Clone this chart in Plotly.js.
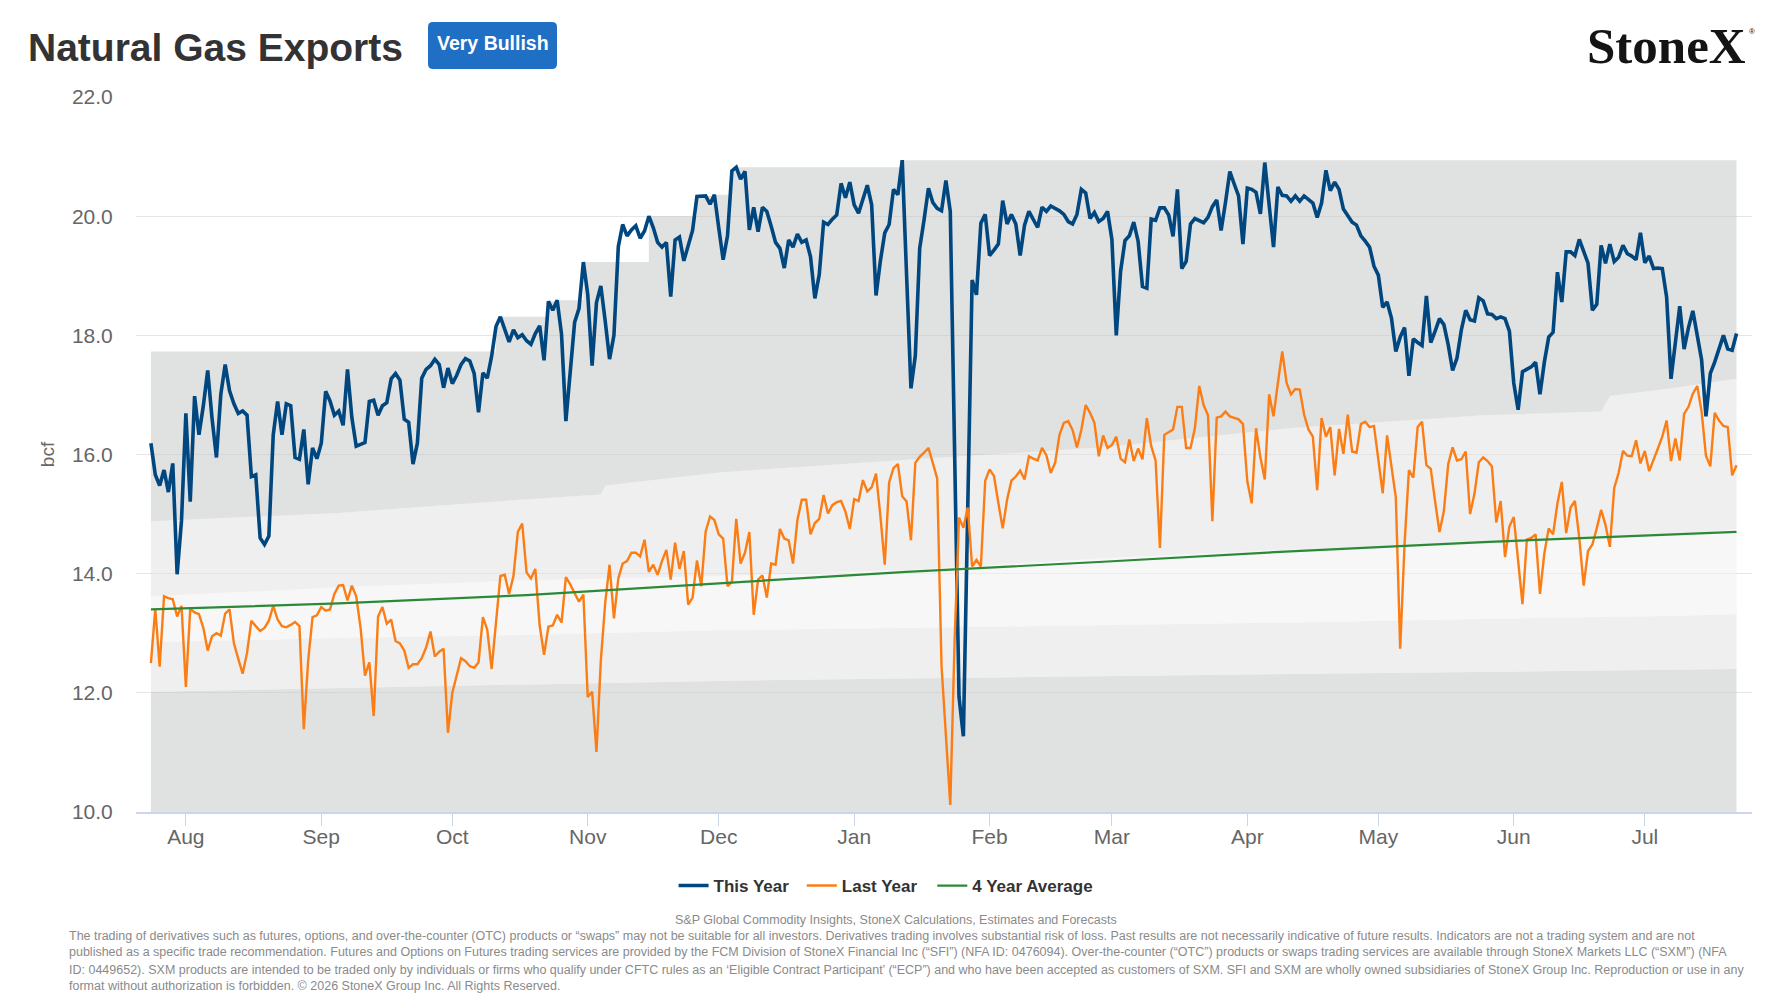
<!DOCTYPE html>
<html>
<head>
<meta charset="utf-8">
<script src="https://cdn.plot.ly/plotly-3.0.1.min.js"></script>
<style>
html,body{margin:0;padding:0;background:#ffffff;}
#chart{width:1780px;height:1001px;}
</style>
</head>
<body>
<div id="chart"></div>
<script>
// ---------------- DATA ----------------
const seriesStart = '2025-07-24';   // first daily point (series run daily to 2026-07-22)

const thisYear = [
16.19,15.66,15.48,15.74,15.37,15.85,13.99,14.89,16.69,15.21,
16.98,16.33,16.82,17.41,16.6,15.95,17.01,17.51,17.07,16.85,
16.69,16.73,16.66,15.63,15.66,14.6,14.49,14.63,16.33,16.89,
16.33,16.85,16.82,15.95,15.92,16.42,15.5,16.11,15.93,16.19,
17.06,16.9,16.66,16.73,16.49,17.43,16.62,16.14,16.17,16.2,
16.89,16.91,16.66,16.82,16.87,17.27,17.36,17.25,16.59,16.54,
15.84,16.19,17.28,17.43,17.49,17.6,17.51,17.12,17.45,17.19,
17.33,17.51,17.61,17.57,17.36,16.71,17.37,17.28,17.65,18.15,
18.31,18.1,17.89,18.09,17.96,18.01,17.91,17.85,18.03,18.16,
17.58,18.57,18.42,18.59,18.02,16.56,17.48,18.22,18.45,19.23,
18.69,17.49,18.55,18.83,18.24,17.6,18.0,19.49,19.86,19.67,
19.77,19.84,19.63,19.75,20.0,19.81,19.56,19.48,19.56,18.65,
19.6,19.65,19.25,19.51,19.76,20.33,20.33,20.34,20.2,20.36,
19.8,19.27,19.67,20.76,20.82,20.62,20.75,19.77,20.15,19.74,
20.15,20.08,19.83,19.56,19.46,19.13,19.6,19.48,19.7,19.56,
19.6,19.32,18.62,19.02,19.9,19.86,19.95,20.02,20.55,20.31,
20.57,20.19,20.05,20.31,20.52,20.19,18.67,19.25,19.72,19.86,
20.45,20.36,20.94,19.0,17.11,17.66,19.46,19.94,20.47,20.23,
20.13,20.09,20.6,20.08,15.8,11.93,11.27,15.2,18.93,18.68,
19.88,20.03,19.34,19.43,19.53,20.26,19.87,20.03,19.87,19.34,
19.85,20.08,19.93,19.81,20.15,20.08,20.17,20.13,20.09,20.03,
19.91,19.87,20.03,20.45,20.39,19.96,20.06,19.91,19.96,20.08,
19.61,18.0,19.08,19.59,19.67,19.9,19.58,18.82,18.79,19.95,
19.93,20.14,20.14,20.02,19.66,20.45,19.12,19.24,19.87,19.96,
19.92,19.89,19.98,20.16,20.27,19.76,20.23,20.75,20.54,20.34,
19.53,20.47,20.45,20.4,20.04,20.9,20.19,19.48,20.49,20.35,
20.34,20.25,20.34,20.25,20.34,20.27,20.22,19.98,20.22,20.77,
20.43,20.57,20.45,20.12,20.0,19.9,19.85,19.67,19.58,19.48,
19.16,19.01,18.47,18.56,18.29,17.73,17.97,18.13,17.32,17.94,
17.88,17.83,18.66,17.88,18.07,18.28,18.18,17.84,17.41,17.62,
18.09,18.42,18.26,18.24,18.63,18.58,18.36,18.35,18.28,18.31,
18.28,18.07,17.2,16.75,17.39,17.43,17.47,17.55,17.01,17.55,
17.97,18.05,19.06,18.56,19.4,19.4,19.34,19.61,19.4,19.21,
18.42,18.52,19.51,19.21,19.53,19.24,19.31,19.51,19.37,19.33,
19.27,19.72,19.22,19.33,19.12,19.13,19.12,18.64,17.27,17.95,
18.49,17.77,18.13,18.41,17.97,17.59,16.64,17.36,17.55,17.79,
18.0,17.77,17.75,18.03
];

const lastYear = [
12.5,13.41,12.44,13.62,13.59,13.57,13.28,13.46,12.1,13.41,
13.35,13.32,13.09,12.71,12.95,13.0,12.96,13.33,13.4,12.83,
12.57,12.32,12.67,13.21,13.12,13.04,13.09,13.21,13.46,13.23,
13.12,13.1,13.14,13.19,13.12,11.39,12.54,13.27,13.3,13.44,
13.38,13.4,13.66,13.8,13.81,13.55,13.8,13.62,13.09,12.29,
12.51,11.61,13.28,13.44,13.16,13.23,12.87,12.83,12.71,12.42,
12.48,12.48,12.58,12.76,13.03,12.61,12.69,12.74,11.33,12.0,
12.29,12.58,12.53,12.45,12.42,12.51,13.27,13.06,12.4,13.22,
13.96,13.98,13.66,13.96,14.7,14.84,14.02,13.92,14.08,13.13,
12.64,13.11,13.13,13.31,13.18,13.94,13.82,13.67,13.53,13.65,
11.93,12.02,11.01,12.54,13.51,14.15,13.25,13.92,14.17,14.21,
14.35,14.35,14.29,14.57,14.03,14.15,13.98,14.21,14.4,13.9,
14.52,14.08,14.38,13.48,13.6,14.22,13.79,14.71,14.96,14.9,
14.66,14.59,13.79,13.86,14.92,14.17,14.35,14.7,13.31,13.9,
13.97,13.6,14.17,14.15,14.75,14.59,14.56,14.17,14.9,15.24,
15.24,14.66,14.85,14.92,15.32,15.01,15.15,15.2,15.22,15.04,
14.75,15.25,15.22,15.57,15.38,15.45,15.68,14.97,14.15,15.53,
15.77,15.84,15.3,15.21,14.56,15.86,15.96,16.03,16.11,15.86,
15.6,12.45,11.25,10.12,12.9,14.94,14.77,15.11,14.12,14.23,
14.12,15.56,15.75,15.64,15.19,14.76,15.24,15.56,15.63,15.73,
15.58,15.97,15.93,15.9,16.11,15.99,15.69,15.86,16.33,16.53,
16.56,16.41,16.12,16.41,16.83,16.7,16.53,15.97,16.32,16.11,
16.16,16.3,15.93,15.87,16.25,15.89,16.1,15.92,16.61,16.14,
15.9,14.43,16.33,16.37,16.42,16.8,16.8,16.11,16.11,16.44,
17.15,16.83,16.66,14.88,16.62,16.64,16.72,16.64,16.61,16.59,
16.51,15.55,15.18,16.44,15.95,15.58,17.01,16.64,17.2,17.73,
17.2,17.01,17.1,17.09,16.67,16.42,16.3,15.4,16.61,16.3,
16.46,15.65,16.43,16.01,16.67,16.05,16.03,16.51,16.55,16.46,
16.48,15.9,15.35,16.32,15.79,15.28,12.74,14.5,15.74,15.61,
16.46,16.55,15.82,15.76,15.21,14.7,15.05,15.84,16.12,15.9,
15.92,16.05,15.0,15.34,15.87,15.95,15.89,15.8,14.86,15.22,
14.28,14.79,14.95,14.18,13.49,14.57,14.6,14.66,13.66,14.34,
14.76,14.66,15.18,15.54,14.68,15.11,15.22,14.6,13.8,14.38,
14.49,14.76,15.07,14.82,14.45,15.44,15.69,16.06,15.98,15.97,
16.24,15.85,16.06,15.72,15.9,16.1,16.3,16.57,15.89,16.27,
15.9,16.68,16.8,17.02,17.15,16.72,15.98,15.8,16.7,16.57,
16.48,16.46,15.65,15.82
];

// 4 Year Average (read at sparse dates)
const avgDates = ['2025-07-24','2025-09-05','2025-10-18','2025-12-01','2026-01-13','2026-02-27','2026-04-12','2026-05-25','2026-07-07','2026-07-22'];
const avg4Year = [13.40,13.50,13.64,13.84,14.03,14.20,14.38,14.53,14.66,14.70];

// Shaded range bands
const bandDates = ['2025-07-24','2025-09-05','2025-10-18','2025-12-01','2026-01-13','2026-02-27','2026-04-12','2026-05-25','2026-07-07','2026-07-22'];
const bandLow   = [12.02,12.08,12.15,12.20,12.24,12.28,12.31,12.35,12.39,12.40];
const bandMidLo = [12.85,12.92,12.97,13.05,13.09,13.13,13.18,13.24,13.29,13.32];
const bandMidHi = [13.62,13.77,13.89,13.96,14.06,14.26,14.41,14.50,14.64,14.75];
const bandHighDates = ['2025-07-24','2025-09-05','2025-10-18','2025-11-04','2025-11-05','2025-12-01','2026-01-13','2026-02-27','2026-04-12','2026-05-25','2026-06-21','2026-06-23','2026-07-07','2026-07-22'];
const bandHigh  = [14.88,15.02,15.25,15.33,15.48,15.70,15.91,16.12,16.45,16.66,16.72,16.98,17.11,17.27];
const bandMaxDates = ['2025-07-24','2025-10-11','2025-10-12','2025-10-23','2025-10-25','2025-10-31','2025-11-15','2025-11-26','2025-11-28','2025-11-30','2025-12-04','2025-12-05','2026-01-12','2026-07-22'];
const bandMax   = [17.73,18.15,18.31,18.57,18.59,19.23,20.00,20.33,20.34,20.36,20.76,20.82,20.94,20.94];

const monthTickStart = '2025-08-01';
const legendNames = ['This Year','Last Year','4 Year Average'];

const sourceText = 'S&P Global Commodity Insights, StoneX Calculations, Estimates and Forecasts';
const disclaimerLines = [
 'The trading of derivatives such as futures, options, and over-the-counter (OTC) products or \u201cswaps\u201d may not be suitable for all investors. Derivatives trading involves substantial risk of loss. Past results are not necessarily indicative of future results. Indicators are not a trading system and are not',
 'published as a specific trade recommendation. Futures and Options on Futures trading services are provided by the FCM Division of StoneX Financial Inc (\u201cSFI\u201d) (NFA ID: 0476094). Over-the-counter (\u201cOTC\u201d) products or swaps trading services are available through StoneX Markets LLC (\u201cSXM\u201d) (NFA',
 'ID: 0449652). SXM products are intended to be traded only by individuals or firms who qualify under CFTC rules as an \u2018Eligible Contract Participant\u2019 (\u201cECP\u201d) and who have been accepted as customers of SXM. SFI and SXM are wholly owned subsidiaries of StoneX Group Inc. Reproduction or use in any',
 'format without authorization is forbidden. \u00a9 2026 StoneX Group Inc. All Rights Reserved.'
];

// ---------------- BUILD ----------------
function dailyDates(start, n){
  const out = [];
  const t0 = Date.parse(start + 'T00:00:00Z');
  for (let i = 0; i < n; i++){
    out.push(new Date(t0 + i*86400000).toISOString().slice(0,10));
  }
  return out;
}
const dates = dailyDates(seriesStart, thisYear.length);

const W = 1780, H = 1001;
const M = {l:136, r:28, t:97, b:189};
const PW = W - M.l - M.r, PH = H - M.t - M.b;
const px = x => (x - M.l) / PW;
const py = y => (H - M.b - y) / PH;

const FONT = 'Liberation Sans, Arial, Helvetica, sans-serif';
const DARK = 'rgba(193,195,195,0.5)';
const LIGHT = 'rgba(223,223,223,0.5)';
const LIGHTEST = 'rgba(239,239,239,0.5)';

const bandTrace = (x, y, fill, color, shape) => ({
  x: x, y: y, type: 'scatter', mode: 'lines',
  line: {width: 0, shape: shape || 'linear'},
  fill: fill, fillcolor: color, showlegend: false, hoverinfo: 'skip'
});

const traces = [
  bandTrace(bandDates, bandLow, 'tozeroy', DARK),
  bandTrace(bandDates, bandMidLo, 'tonexty', LIGHT),
  bandTrace(bandDates, bandMidHi, 'tonexty', LIGHTEST),
  bandTrace(bandHighDates, bandHigh, 'tonexty', LIGHT),
  bandTrace(bandMaxDates, bandMax, 'tonexty', DARK, 'hv'),
  {x: dates, y: thisYear, type: 'scatter', mode: 'lines', name: legendNames[0],
   legend: 'legend', line: {color: '#00467f', width: 3.6}},
  {x: dates, y: lastYear, type: 'scatter', mode: 'lines', name: legendNames[1],
   legend: 'legend2', line: {color: '#fb7d15', width: 2.4}},
  {x: avgDates, y: avg4Year, type: 'scatter', mode: 'lines', name: legendNames[2],
   legend: 'legend3', line: {color: '#2b8a37', width: 2.2}}
];

function roundRect(x0, y0, x1, y1, r){
  const X = v => px(v).toFixed(5), Y = v => py(v).toFixed(5);
  return 'M' + X(x0+r) + ',' + Y(y0) + ' L' + X(x1-r) + ',' + Y(y0) +
    ' Q' + X(x1) + ',' + Y(y0) + ' ' + X(x1) + ',' + Y(y0+r) +
    ' L' + X(x1) + ',' + Y(y1-r) +
    ' Q' + X(x1) + ',' + Y(y1) + ' ' + X(x1-r) + ',' + Y(y1) +
    ' L' + X(x0+r) + ',' + Y(y1) +
    ' Q' + X(x0) + ',' + Y(y1) + ' ' + X(x0) + ',' + Y(y1-r) +
    ' L' + X(x0) + ',' + Y(y0+r) +
    ' Q' + X(x0) + ',' + Y(y0) + ' ' + X(x0+r) + ',' + Y(y0) + ' Z';
}

const annotations = [
  {text: '<b>Very Bullish</b>', x: px(492.5), y: py(43), xref: 'paper', yref: 'paper',
   xanchor: 'center', yanchor: 'middle', showarrow: false,
   font: {family: FONT, size: 19.5, color: '#ffffff'}},
  {text: '<b>StoneX</b>', x: px(1748), y: py(46), xref: 'paper', yref: 'paper',
   xanchor: 'right', yanchor: 'middle', showarrow: false,
   font: {family: 'Liberation Serif, Times New Roman, serif', size: 51, color: '#141414'}},
  {text: '\u00ae', x: px(1752), y: py(31), xref: 'paper', yref: 'paper',
   xanchor: 'center', yanchor: 'middle', showarrow: false,
   font: {family: FONT, size: 8, color: '#141414'}},
  {text: sourceText, x: px(896), y: py(920), xref: 'paper', yref: 'paper',
   xanchor: 'center', yanchor: 'middle', showarrow: false,
   font: {family: FONT, size: 12.5, color: '#8a8a8a'}}
];
const lineY = [935.5, 952.5, 969.5, 985.5];
disclaimerLines.forEach((t, i) => annotations.push({
  text: t, x: px(67), y: py(lineY[i]), xref: 'paper', yref: 'paper',
  xanchor: 'left', yanchor: 'middle', showarrow: false,
  font: {family: FONT, size: 12.5, color: '#8a8a8a'}
}));

const legendBase = (xPix) => ({
  orientation: 'h', x: px(xPix), xanchor: 'left', y: py(886), yanchor: 'middle',
  bgcolor: 'rgba(0,0,0,0)', itemwidth: 30,
  font: {family: FONT, size: 17, color: '#333333', weight: 700}
});

const layout = {
  width: W, height: H,
  margin: M,
  paper_bgcolor: '#ffffff', plot_bgcolor: '#ffffff',
  font: {family: FONT, color: '#333333'},
  title: {text: 'Natural Gas Exports', x: 28/W, xref: 'container', xanchor: 'left',
          y: 1 - 47/H, yref: 'container', yanchor: 'middle',
          font: {family: FONT, size: 39, color: '#333333', weight: 700}},
  xaxis: {
    type: 'date', range: ['2025-07-20 14:00', '2026-07-25 13:00'],
    tick0: monthTickStart, dtick: 'M1', tickformat: '%b',
    ticks: 'outside', ticklen: 12, tickcolor: '#ccd6eb', tickwidth: 1,
    ticklabelstandoff: -7,
    showline: true, linecolor: '#ccd6eb', linewidth: 1.5,
    showgrid: false, zeroline: false,
    tickfont: {family: FONT, size: 21, color: '#666666'}
  },
  yaxis: {
    range: [10, 22], tick0: 10, dtick: 2, tickformat: '.1f',
    showgrid: true, gridcolor: '#e6e6e6', gridwidth: 1,
    zeroline: false, showline: false,
    ticks: 'outside', ticklen: 18, tickcolor: 'rgba(0,0,0,0)',
    tickfont: {family: FONT, size: 21, color: '#666666'},
    title: {text: 'bcf', standoff: 12, font: {family: FONT, size: 19, color: '#666666'}}
  },
  showlegend: true,
  legend: legendBase(673.6),
  legend2: legendBase(801.8),
  legend3: legendBase(932.3),
  shapes: [{type: 'path', xref: 'paper', yref: 'paper', path: roundRect(428, 22, 557, 69, 5),
            fillcolor: '#1f6fc5', line: {width: 0}, layer: 'above'}],
  annotations: annotations,
  hovermode: false
};

Plotly.newPlot('chart', traces, layout, {displayModeBar: false, staticPlot: true});
</script>
</body>
</html>
